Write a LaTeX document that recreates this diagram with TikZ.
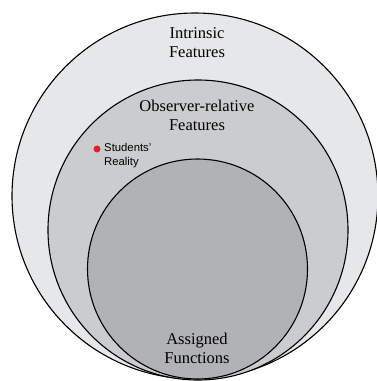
\documentclass[tikz,border=0pt]{standalone}
\usepackage{fontspec}
\setmainfont{Liberation Serif}
\newfontfamily\labelsans{Liberation Sans}
\usetikzlibrary{positioning}
\definecolor{outerfill}{HTML}{E6E7E8}
\definecolor{middlefill}{HTML}{CBCCCE}
\definecolor{innerfill}{HTML}{B1B2B5}
\definecolor{dotred}{HTML}{E0202A}
\begin{document}
\begin{tikzpicture}[x=1pt, y=-1pt,
    ring/.style = {draw, circle, inner sep=0pt, line width=1.1pt},
    title/.style = {align=center, font=\fontsize{16.5}{19}\selectfont},
    note/.style = {align=left, anchor=west, font=\labelsans\fontsize{11.3}{13.5}\selectfont}]
    \useasboundingbox (0,0) rectangle (377,381);
    \clip (0,0) rectangle (377,381);
    \node[ring, fill=outerfill,  minimum size=366pt] (intrinsic) at (195,196)   {};
    \node[ring, fill=middlefill, minimum size=300pt] (observer)  at (198,230)   {};
    \node[ring, fill=innerfill,  minimum size=220pt] (assigned)  at (197.5,269) {};
    \node[title] (t1) at (197,43)  {Intrinsic\\Features};
    \node[title] (t2) at (197,115) {Observer-relative\\Features};
    \node[title] (t3) at (197,348) {Assigned\\Functions};
    \node[circle, fill=dotred, inner sep=0pt, minimum size=7pt] (dot) at (97,149) {};
    \node[note] (students) [right=0pt of dot, yshift=-6.5pt] {Students’\\Reality};
\end{tikzpicture}
\end{document}
